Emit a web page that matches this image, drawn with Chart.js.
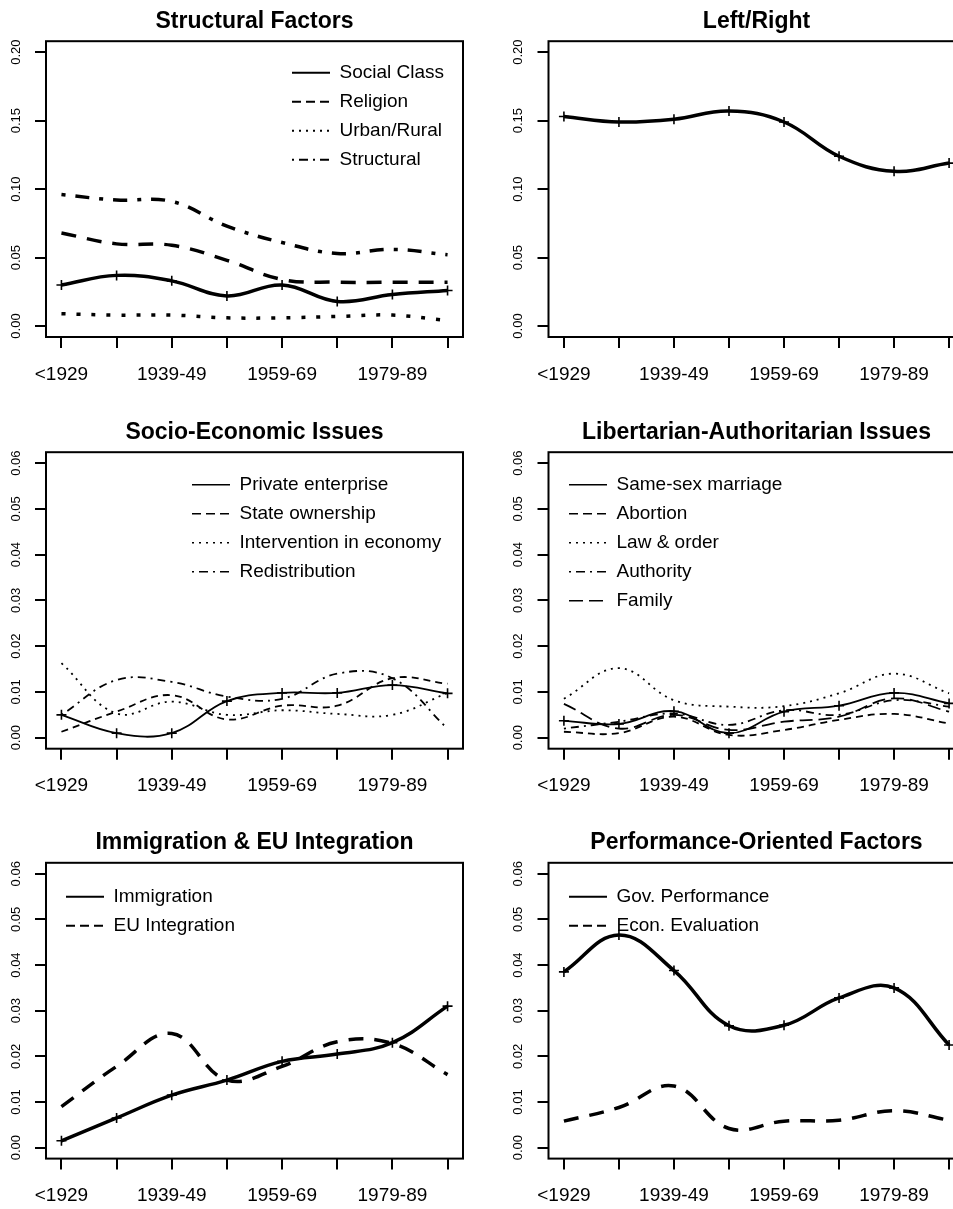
<!DOCTYPE html>
<html>
<head>
<meta charset="utf-8">
<script src="https://cdn.jsdelivr.net/npm/chart.js@4.4.1/dist/chart.umd.min.js"></script>
<style>
html, body { margin: 0; padding: 0; background: #fff; overflow: hidden; }
body { position: relative; width: 953px; height: 1209px; }
canvas { position: absolute; }
</style>
</head>
<body>
<canvas id="c1" width="476" height="400" style="left:0px;top:0px"></canvas>
<canvas id="c2" width="500" height="400" style="left:476px;top:0px"></canvas>
<canvas id="c3" width="476" height="400" style="left:0px;top:400px"></canvas>
<canvas id="c4" width="500" height="400" style="left:476px;top:400px"></canvas>
<canvas id="c5" width="476" height="409" style="left:0px;top:800px"></canvas>
<canvas id="c6" width="500" height="409" style="left:476px;top:800px"></canvas>
<script>
// periodes sur l'axe x (une sur deux est affichee)
let periodes = ['<1929', '1929-39', '1939-49', '1949-59', '1959-69', '1969-79', '1979-89', '1989-99'];
// graduations de l'axe y
let ticksGrand = [0, 0.05, 0.10, 0.15, 0.20];
let ticksPetit = [0, 0.01, 0.02, 0.03, 0.04, 0.05, 0.06];

// Structural Factors
let socialClass = [0.030, 0.037, 0.033, 0.022, 0.030, 0.018, 0.023, 0.026];
let religion = [0.068, 0.060, 0.059, 0.048, 0.034, 0.032, 0.032, 0.032];
let urbanRural = [0.009, 0.008, 0.008, 0.006, 0.006, 0.007, 0.008, 0.004];
let structural = [0.096, 0.092, 0.091, 0.073, 0.061, 0.053, 0.056, 0.052];

// Left/Right
let leftRight = [0.153, 0.149, 0.151, 0.157, 0.149, 0.124, 0.113, 0.119];

// Socio-Economic Issues
let privateEnterprise = [0.0050, 0.0010, 0.0010, 0.0080, 0.0098, 0.0098, 0.0115, 0.0097];
let stateOwnership = [0.0013, 0.0057, 0.0093, 0.0040, 0.0070, 0.0070, 0.0130, 0.0118];
let intervention = [0.0163, 0.0053, 0.0079, 0.0050, 0.0060, 0.0052, 0.0050, 0.0098];
let redistribution = [0.0050, 0.0126, 0.0122, 0.0090, 0.0085, 0.0140, 0.0130, 0.0020];

// Libertarian-Authoritarian Issues
let sameSex = [0.0037, 0.0030, 0.0058, 0.0010, 0.0057, 0.0070, 0.0098, 0.0075];
let abortion = [0.0013, 0.0010, 0.0046, 0.0006, 0.0017, 0.0039, 0.0052, 0.0031];
let lawOrder = [0.0085, 0.0152, 0.0082, 0.0068, 0.0069, 0.0097, 0.0140, 0.0097];
let authority = [0.0020, 0.0035, 0.0053, 0.0028, 0.0060, 0.0050, 0.0082, 0.0068];
let family = [0.0074, 0.0020, 0.0050, 0.0017, 0.0035, 0.0046, 0.0086, 0.0057];

// Immigration & EU Integration
let immigration = [0.0015, 0.0065, 0.0115, 0.0148, 0.0189, 0.0205, 0.0230, 0.0310];
let euIntegration = [0.0090, 0.0178, 0.0250, 0.0148, 0.0178, 0.0232, 0.0228, 0.0160];

// Performance-Oriented Factors
let govPerformance = [0.0385, 0.0466, 0.0388, 0.0267, 0.0268, 0.0328, 0.0350, 0.0225];
let econEvaluation = [0.0058, 0.0088, 0.0135, 0.0042, 0.0058, 0.0060, 0.0081, 0.0060];

Chart.defaults.font.family = "'Liberation Sans', Arial, sans-serif";
Chart.defaults.color = '#000';

// types de traits (style R)
let epais = {solide: [], tirets: [15, 11], points: [4, 11], pointTiret: [4, 10, 14, 10]};
let fin = {solide: [], tirets: [7, 5], points: [2, 5], pointTiret: [2, 5, 8, 5], longTirets: [13, 6]};
let legende = {solide: [], tirets: [9, 5], points: [2, 5], pointTiret: [2, 5, 9, 5], longTirets: [14, 6]};

// une serie = une courbe lissee
function serie(label, valeurs, largeur, tiret, tiretLeg, largeurLeg, croix) {
    return {
        label: label,
        data: valeurs.map((v, i) => ({x: i + 1, y: v})),
        borderColor: '#000',
        backgroundColor: '#000',
        borderWidth: largeur,
        borderDash: tiret,
        tension: 0.4,
        fill: false,
        pointStyle: 'cross',
        pointRadius: croix ? 5 : 0,
        pointBorderWidth: 1.6,
        pointBorderColor: '#000',
        legendDash: tiretLeg,
        legendWidth: largeurLeg
    };
}

// cadre autour de la zone de trace
let cadre = {
    id: 'cadre',
    afterDraw: function(chart) {
        let a = chart.chartArea;
        let c = chart.ctx;
        c.save();
        c.strokeStyle = '#000';
        c.lineWidth = 2;
        c.strokeRect(a.left, a.top, a.right - a.left, a.bottom - a.top);
        c.restore();
    }
};

// on deplace la legende dans la zone de trace
let decalLegende = {
    id: 'decalLegende',
    afterLayout: function(chart, args, opts) {
        if (!chart.legend) return;
        chart.legend.left = chart.chartArea.left + opts.x;
        chart.legend.top = chart.chartArea.top + opts.y;
    }
};

function panneau(id, titre, series, yMin, yMax, yTicks, p) {
    let ctx = document.getElementById(id).getContext('2d');
    return new Chart(ctx, {
        type: 'line',
        data: {datasets: series},
        options: {
            responsive: false,
            animation: false,
            events: [],
            layout: {padding: {top: p.haut, right: p.droite, left: 0, bottom: 0}},
            plugins: {
                title: {
                    display: true, text: titre, fullSize: false, color: '#000',
                    font: {size: 23, weight: 'bold'}, padding: {top: 0, bottom: 6}
                },
                legend: {
                    display: !!p.legende,
                    position: 'chartArea',
                    align: 'start',
                    labels: {
                        color: '#000', font: {size: 19}, usePointStyle: true, pointStyle: 'line',
                        pointStyleWidth: 38, padding: 10,
                        generateLabels: function(chart) {
                            let items = Chart.defaults.plugins.legend.labels.generateLabels(chart);
                            items.forEach(function(it) {
                                let ds = chart.data.datasets[it.datasetIndex];
                                it.lineDash = ds.legendDash;
                                it.lineWidth = ds.legendWidth;
                            });
                            return items;
                        }
                    }
                },
                tooltip: {enabled: false},
                decalLegende: p.legende || {x: 0, y: 0}
            },
            scales: {
                x: {
                    type: 'linear', min: 0.72, max: 8.28,
                    afterBuildTicks: function(axe) { axe.ticks = periodes.map((t, i) => ({value: i + 1})); },
                    afterFit: function(axe) { axe.height = p.basX; },
                    border: {display: false},
                    grid: {drawOnChartArea: false, drawTicks: true, tickLength: 11, color: '#000', lineWidth: 2},
                    ticks: {
                        autoSkip: false, maxRotation: 0, minRotation: 0, padding: 15,
                        font: {size: 19}, color: '#000',
                        callback: function(v) { return (v % 2 === 1) ? periodes[v - 1] : ''; }
                    }
                },
                y: {
                    type: 'linear', min: yMin, max: yMax,
                    afterBuildTicks: function(axe) { axe.ticks = yTicks.map(v => ({value: v})); },
                    afterFit: function(axe) { axe.width = p.largeurY; },
                    border: {display: false},
                    grid: {drawOnChartArea: false, drawTicks: true, tickLength: 11, color: '#000', lineWidth: 2},
                    ticks: {
                        autoSkip: false, minRotation: 90, maxRotation: 90, crossAlign: 'center', padding: 6,
                        font: {size: 13}, color: '#000',
                        callback: function(v) { return v.toFixed(2); }
                    }
                }
            }
        },
        plugins: [cadre, decalLegende]
    });
}

// Graphiques
panneau('c1', 'Structural Factors', [
    serie('Social Class', socialClass, 3.5, epais.solide, legende.solide, 2, true),
    serie('Religion', religion, 3.5, epais.tirets, legende.tirets, 2, false),
    serie('Urban/Rural', urbanRural, 3.5, epais.points, legende.points, 2, false),
    serie('Structural', structural, 3.5, epais.pointTiret, legende.pointTiret, 2, false)
], -0.008, 0.208, ticksGrand, {haut: 7.6, droite: 13, basX: 63, largeurY: 46, legende: {x: 236, y: 12}});

panneau('c2', 'Left/Right', [
    serie('Left/Right', leftRight, 3.5, epais.solide, legende.solide, 2, true)
], -0.008, 0.208, ticksGrand, {haut: 7.6, droite: 11.5, basX: 63, largeurY: 72.5, legende: null});

panneau('c3', 'Socio-Economic Issues', [
    serie('Private enterprise', privateEnterprise, 1.8, fin.solide, legende.solide, 1.6, true),
    serie('State ownership', stateOwnership, 1.8, fin.tirets, legende.tirets, 1.6, false),
    serie('Intervention in economy', intervention, 1.8, fin.points, legende.points, 1.6, false),
    serie('Redistribution', redistribution, 1.8, fin.pointTiret, legende.pointTiret, 1.6, false)
], -0.0024, 0.0624, ticksPetit, {haut: 18.6, droite: 13, basX: 51.3, largeurY: 46, legende: {x: 136, y: 13}});

panneau('c4', 'Libertarian-Authoritarian Issues', [
    serie('Same-sex marriage', sameSex, 1.8, fin.solide, legende.solide, 1.6, true),
    serie('Abortion', abortion, 1.8, fin.tirets, legende.tirets, 1.6, false),
    serie('Law & order', lawOrder, 1.8, fin.points, legende.points, 1.6, false),
    serie('Authority', authority, 1.8, fin.pointTiret, legende.pointTiret, 1.6, false),
    serie('Family', family, 1.8, fin.longTirets, legende.longTirets, 1.6, false)
], -0.0024, 0.0624, ticksPetit, {haut: 18.6, droite: 11.5, basX: 51.3, largeurY: 72.5, legende: {x: 10.5, y: 13}});

panneau('c5', 'Immigration & EU Integration', [
    serie('Immigration', immigration, 3.5, epais.solide, legende.solide, 2, true),
    serie('EU Integration', euIntegration, 3.5, epais.tirets, legende.tirets, 2, false)
], -0.0024, 0.0624, ticksPetit, {haut: 29.2, droite: 13, basX: 50.4, largeurY: 46, legende: {x: 10, y: 14.5}});

panneau('c6', 'Performance-Oriented Factors', [
    serie('Gov. Performance', govPerformance, 3.5, epais.solide, legende.solide, 2, true),
    serie('Econ. Evaluation', econEvaluation, 3.5, epais.tirets, legende.tirets, 2, false)
], -0.0024, 0.0624, ticksPetit, {haut: 29.2, droite: 11.5, basX: 50.4, largeurY: 72.5, legende: {x: 10.5, y: 14.5}});
</script>
</body>
</html>
